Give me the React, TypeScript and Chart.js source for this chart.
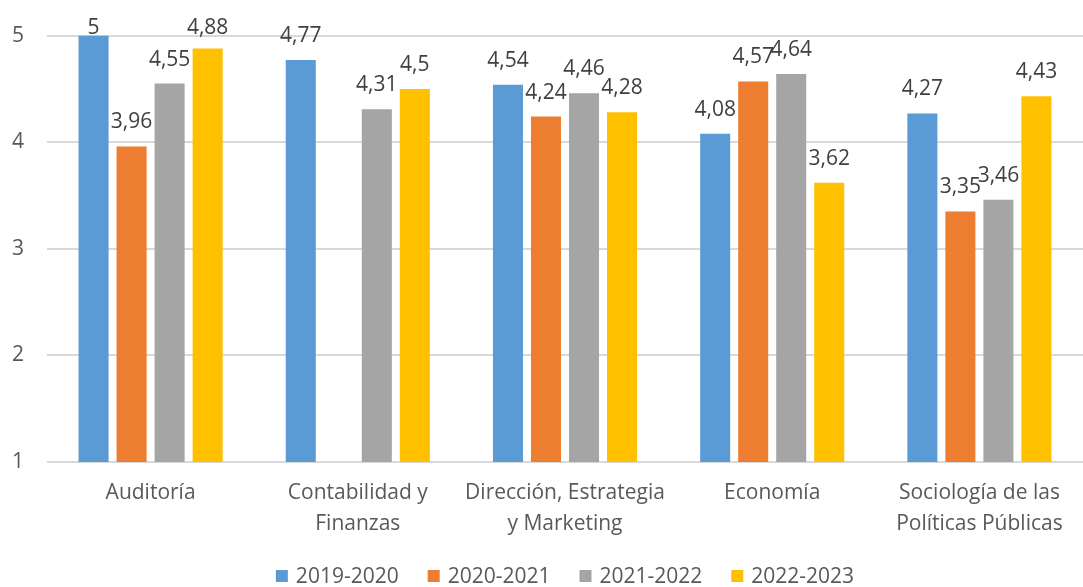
import React, { useEffect, useRef } from 'react';
import { Chart, registerables } from 'chart.js';

Chart.register(...registerables);

const categories: (string | string[])[] = [
  'Auditoría',
  ['Contabilidad y', 'Finanzas'],
  ['Dirección, Estrategia', 'y Marketing'],
  'Economía',
  ['Sociología de las', 'Políticas Públicas'],
];
const seriesNames = ['2019-2020', '2020-2021', '2021-2022', '2022-2023'];
const s2019_2020 = [5, 4.77, 4.54, 4.08, 4.27];
const s2020_2021 = [3.96, null, 4.24, 4.57, 3.35];
const s2021_2022 = [4.55, 4.31, 4.46, 4.64, 3.46];
const s2022_2023 = [4.88, 4.5, 4.28, 3.62, 4.43];
const seriesColors = ['#5B9BD5', '#ED7D31', '#A5A5A5', '#FFC000'];
const yMin = 1;
const yMax = 5;
const yStep = 1;

const FONT = '"Open Sans", "Noto Sans", sans-serif';
const FS = 21;

const dataLabelPlugin = {
  id: 'dataLabels',
  afterDatasetsDraw(chart: any) {
    const ctx = chart.ctx;
    const top = chart.chartArea.top;
    ctx.save();
    ctx.font = `${FS}px ${FONT}`;
    ctx.fillStyle = '#404040';
    ctx.textAlign = 'center';
    ctx.textBaseline = 'alphabetic';
    chart.data.datasets.forEach((ds: any, di: number) => {
      const meta = chart.getDatasetMeta(di);
      meta.data.forEach((el: any, i: number) => {
        const v = ds.data[i];
        if (v === null || v === undefined) return;
        const txt = String(v).replace('.', ',');
        const y = Math.max(el.y - 18, top - 2);
        ctx.fillText(txt, el.x, y);
      });
    });
    ctx.restore();
  },
};

const legendPlugin = {
  id: 'customLegend',
  afterDraw(chart: any) {
    const ctx = chart.ctx;
    const ca = chart.chartArea;
    ctx.save();
    ctx.font = `${FS}px ${FONT}`;
    ctx.textBaseline = 'middle';
    ctx.textAlign = 'left';
    const box = 12;
    const gap = 8;
    const itemGap = 29;
    const items = chart.data.datasets.map((ds: any) => ({
      text: ds.label,
      color: ds.backgroundColor,
      w: box + gap + ctx.measureText(ds.label).width,
    }));
    const total = items.reduce((a: number, it: any) => a + it.w, 0) + itemGap * (items.length - 1);
    let x = (ca.left + ca.right) / 2 - total / 2;
    const cy = 576;
    items.forEach((it: any) => {
      ctx.fillStyle = it.color;
      ctx.fillRect(x, cy - box / 2, box, box);
      ctx.fillStyle = '#595959';
      ctx.fillText(it.text, x + box + gap, cy + 1);
      x += it.w + itemGap;
    });
    ctx.restore();
  },
};

export default function App() {
  const ref = useRef<HTMLCanvasElement | null>(null);
  useEffect(() => {
    document.body.style.margin = '0';
    if (!ref.current) return;
    const series = [s2019_2020, s2020_2021, s2021_2022, s2022_2023];
    const chart = new Chart(ref.current, {
      type: 'bar',
      data: {
        labels: categories,
        datasets: series.map((d, i) => ({
          label: seriesNames[i],
          data: d,
          backgroundColor: seriesColors[i],
          borderWidth: 0,
          categoryPercentage: 0.734,
          barPercentage: 0.79,
        })),
      },
      options: {
        animation: false,
        responsive: false,
        maintainAspectRatio: false,
        layout: { padding: { top: 32, left: 0, right: 0, bottom: 0 } },
        plugins: {
          legend: { display: false },
          tooltip: { enabled: false },
        },
        scales: {
          x: {
            grid: { display: false, drawTicks: false },
            border: { display: false },
            ticks: {
              color: '#595959',
              font: { family: FONT, size: FS, lineHeight: 1.5 },
              padding: 15,
              maxRotation: 0,
              autoSkip: false,
            },
            afterFit: (s: any) => {
              s.height = 125;
            },
          },
          y: {
            min: yMin,
            max: yMax,
            ticks: {
              stepSize: yStep,
              color: '#595959',
              font: { family: FONT, size: FS },
              padding: 23,
            },
            grid: { color: '#D9D9D9', lineWidth: 2, drawTicks: false },
            border: { display: false },
            afterFit: (s: any) => {
              s.width = 47;
            },
          },
        },
      } as any,
      plugins: [dataLabelPlugin, legendPlugin],
    });
    return () => chart.destroy();
  }, []);
  return (
    <div style={{ position: 'absolute', left: 0, top: 0, width: 1083, height: 587 }}>
      <canvas ref={ref} width={1083} height={587} style={{ width: 1083, height: 587 }} />
    </div>
  );
}
